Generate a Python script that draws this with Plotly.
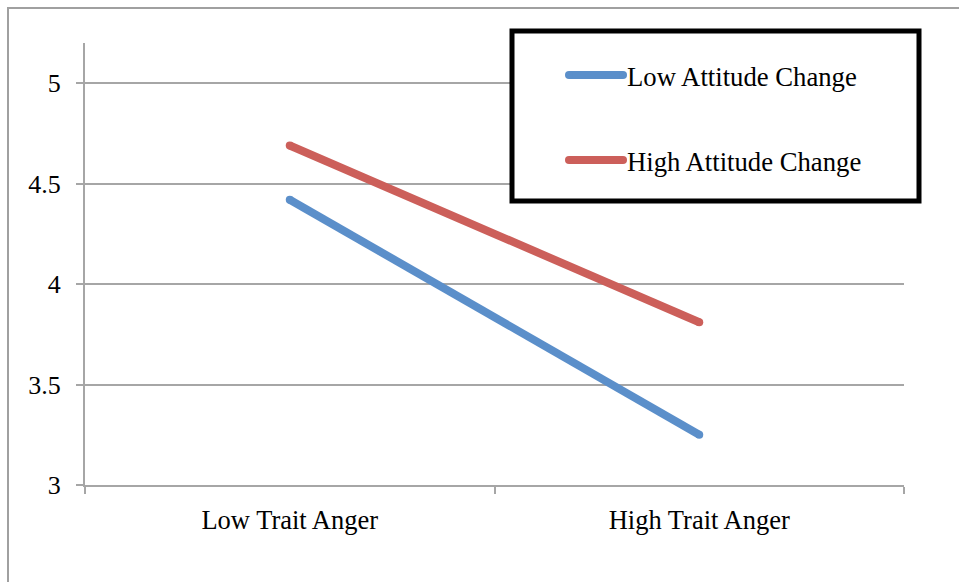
import plotly.graph_objects as go

# Interaction of trait anger and attitude change
categories = ["Low Trait Anger", "High Trait Anger"]
series_names = ["Low Attitude Change", "High Attitude Change"]
low_attitude = [4.42, 3.25]
high_attitude = [4.69, 3.81]
y_ticks = [3, 3.5, 4, 4.5, 5]
y_tick_labels = ["3", "3.5", "4", "4.5", "5"]

colors = ["#5B8FCA", "#CC5F5A"]
font_family = "Liberation Serif, Times New Roman, serif"

fig = go.Figure()
for name, vals, col in zip(series_names, [low_attitude, high_attitude], colors):
    fig.add_trace(go.Scatter(
        x=categories, y=vals, name=name, mode="lines+markers",
        line=dict(color=col, width=8),
        marker=dict(color=col, size=8, line=dict(width=0)),
        showlegend=False, hoverinfo="skip",
    ))

# plot area geometry (pixels) for placing paper-referenced decorations
W, H = 959, 582
L, R, T, B = 85, 55, 43, 97
pw, ph = W - L - R, H - T - B


def px(x):
    return (x - L) / pw


def py(y):
    return (H - B - y) / ph


shapes = [
    # outer chart border
    dict(type="rect", xref="paper", yref="paper",
         x0=px(8), x1=px(975), y0=py(600), y1=py(8),
         line=dict(color="#A0A0A0", width=2), fillcolor="rgba(0,0,0,0)",
         layer="below"),
    # legend box
    dict(type="rect", xref="paper", yref="paper",
         x0=px(512), x1=px(919), y0=py(201), y1=py(31),
         line=dict(color="black", width=5), fillcolor="white",
         layer="above"),
]
annotations = []
legend_rows = [75, 160]
for name, col, yy in zip(series_names, colors, legend_rows):
    shapes.append(dict(type="line", xref="paper", yref="paper",
                       x0=px(569), x1=px(623), y0=py(yy), y1=py(yy),
                       line=dict(color=col, width=8), layer="above"))
    for cx in (569, 623):
        shapes.append(dict(type="circle", xref="paper", yref="paper",
                           x0=px(cx - 4), x1=px(cx + 4),
                           y0=py(yy + 4), y1=py(yy - 4),
                           line=dict(width=0), fillcolor=col, layer="above"))
    annotations.append(dict(xref="paper", yref="paper", x=px(625), y=py(yy + 2),
                            xanchor="left", yanchor="middle", showarrow=False,
                            text=name, font=dict(family=font_family, size=26.7,
                                                 color="black")))

fig.update_layout(
    width=W, height=H,
    margin=dict(l=L, r=R, t=T, b=B, pad=0),
    paper_bgcolor="white", plot_bgcolor="white",
    font=dict(family=font_family, size=26, color="black"),
    shapes=shapes, annotations=annotations,
    xaxis=dict(
        type="category", categoryorder="array", categoryarray=categories,
        range=[-0.5, 1.5], tickson="boundaries", ticks="outside", ticklen=7,
        tickwidth=2, tickcolor="#A6A6A6", showline=True, linecolor="#A6A6A6",
        linewidth=2, showgrid=False, ticklabelstandoff=10,
        tickfont=dict(family=font_family, size=26.5, color="black"),
        fixedrange=True,
    ),
    yaxis=dict(
        range=[3, 5.2], tickvals=y_ticks, ticktext=y_tick_labels,
        ticks="outside", ticklen=7, tickwidth=2, tickcolor="#A6A6A6",
        showline=True, linecolor="#A6A6A6", linewidth=2,
        showgrid=True, gridcolor="#A6A6A6", gridwidth=2, zeroline=False,
        ticklabelstandoff=10,
        tickfont=dict(family=font_family, size=26, color="black"),
        fixedrange=True,
    ),
)

fig.write_html("out.html", config={"displayModeBar": False})
